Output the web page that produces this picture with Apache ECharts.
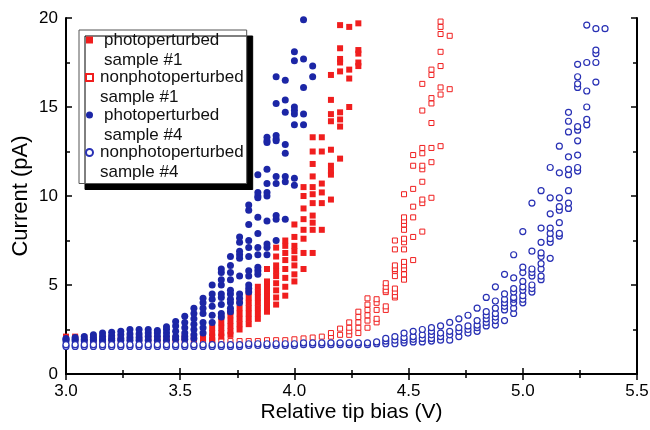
<!DOCTYPE html>
<html>
<head>
<meta charset="utf-8">
<script src="https://cdn.jsdelivr.net/npm/echarts@6/dist/echarts.min.js"></script>
<style>
  html, body { margin: 0; padding: 0; background: #fff; }
  #chart { width: 650px; height: 430px; }
</style>
</head>
<body>
<div id="chart"></div>
<script>
// each row: [tip bias (V), [currents (pA) measured at that bias]]
var photoS1 = [
  [3.00, [2.0, 2.1]], [3.04, [2.0, 2.1]], [3.08, [2.05]], [3.12, [2.05]], [3.16, [2.05]],
  [3.20, [2.05]], [3.24, [2.05]], [3.28, [2.05]], [3.32, [2.05]], [3.36, [2.05]],
  [3.40, [2.0]], [3.44, [2.0]], [3.48, [2.0]], [3.52, [2.0, 2.1]], [3.56, [2.0, 2.1]],
  [3.60, [2.0, 2.2]],
  [3.64, [1.9, 2.1, 2.3, 2.6]],
  [3.68, [2.1, 2.3, 2.6, 2.9, 3.2]],
  [3.72, [2.2, 2.4, 2.7, 3.0, 3.3, 3.5]],
  [3.76, [2.5, 2.8, 3.1, 3.4, 3.7, 4.1]],
  [3.80, [2.8, 3.1, 3.4, 3.7, 4.0, 4.3, 4.6]],
  [3.84, [3.1, 3.4, 3.7, 4.0, 4.3, 4.6, 4.9]],
  [3.88, [3.5, 3.8, 4.1, 4.4, 4.7, 5.0, 5.2, 5.9]],
  [3.92, [3.9, 4.3, 4.7, 5.1, 5.5, 5.8, 6.1, 6.6, 7.1]],
  [3.96, [4.4, 4.9, 5.4, 5.9, 6.4, 6.8, 7.2, 7.5]],
  [4.00, [5.2, 5.6, 6.1, 6.5, 6.9, 7.2, 7.7, 8.4]],
  [4.04, [5.9, 6.8, 7.6, 8.1, 8.7, 9.3, 10.0, 10.5]],
  [4.08, [6.8, 8.1, 8.5, 8.9, 9.6, 10.1, 10.5, 11.1, 11.8, 12.5, 13.3]],
  [4.12, [8.1, 9.6, 10.2, 10.7, 12.5, 13.3]],
  [4.16, [9.8, 11.2, 11.4, 11.7, 12.6, 14.2, 14.6, 15.4, 16.8]],
  [4.20, [12.1, 13.9, 14.3, 14.7, 17.0, 17.5, 17.7, 18.3, 19.6]],
  [4.24, [15.0, 16.6, 17.1, 19.5]],
  [4.28, [17.3, 17.5, 18.0, 18.2, 19.7]]
];

var nonphotoS1 = [
  [3.00, [1.85]], [3.04, [1.85]], [3.08, [1.85]], [3.12, [1.85]], [3.16, [1.85]],
  [3.20, [1.85]], [3.24, [1.85]], [3.28, [1.85]], [3.32, [1.85]], [3.36, [1.85]],
  [3.40, [1.85]], [3.44, [1.85]], [3.48, [1.85]], [3.52, [1.85]], [3.56, [1.85]],
  [3.60, [1.85]], [3.64, [1.85]], [3.68, [1.85]], [3.72, [1.85]], [3.76, [1.85]],
  [3.80, [1.85]], [3.84, [1.85]], [3.88, [1.9]], [3.92, [1.9]], [3.96, [1.9]],
  [4.00, [1.95]], [4.04, [2.0]], [4.08, [2.05]], [4.12, [2.1]],
  [4.16, [2.1, 2.3]],
  [4.20, [2.2, 2.55]],
  [4.24, [2.2, 2.4, 2.6, 2.9]],
  [4.28, [2.3, 2.6, 2.9, 3.2, 3.5]],
  [4.32, [2.6, 3.0, 3.3, 3.6, 3.9, 4.25]],
  [4.36, [2.9, 3.1, 3.6, 4.0, 4.2]],
  [4.40, [3.6, 3.8, 4.6, 4.7, 4.9, 5.1]],
  [4.44, [4.3, 4.4, 4.6, 4.8, 5.5, 5.8, 5.9, 6.1, 7.0, 7.5]],
  [4.48, [5.3, 5.6, 5.9, 6.1, 6.3, 7.0, 7.4, 7.6, 8.1, 8.4, 8.6, 8.8, 10.1]],
  [4.52, [6.4, 7.7, 8.8, 9.4, 10.4, 11.7, 12.3]],
  [4.56, [8.0, 9.6, 9.8, 10.8, 11.5, 11.7, 12.4, 12.7, 14.8, 16.3]],
  [4.60, [9.9, 11.9, 12.7, 14.1, 15.2, 15.5, 16.8, 17.1]],
  [4.64, [12.8, 15.7, 16.1, 17.3, 18.1, 19.1, 19.5, 19.8]],
  [4.68, [16.0, 19.0]]
];

var photoS4 = [
  [3.00, [1.85, 1.95, 2.0]],
  [3.04, [1.85, 1.95, 2.05]],
  [3.08, [1.85, 1.95, 2.1]],
  [3.12, [1.85, 1.95, 2.05, 2.2]],
  [3.16, [1.85, 1.95, 2.1, 2.3]],
  [3.20, [1.9, 2.0, 2.15, 2.35]],
  [3.24, [1.9, 2.0, 2.2, 2.4]],
  [3.28, [1.9, 2.05, 2.25, 2.5]],
  [3.32, [1.9, 2.05, 2.25, 2.5]],
  [3.36, [1.9, 2.1, 2.3, 2.5]],
  [3.40, [1.9, 2.1, 2.3, 2.45]],
  [3.44, [1.9, 2.1, 2.3, 2.5, 2.65]],
  [3.48, [1.95, 2.1, 2.4, 2.7, 2.95]],
  [3.52, [1.95, 2.1, 2.3, 2.6, 2.9, 3.25]],
  [3.56, [2.0, 2.2, 2.5, 2.8, 3.1, 3.4, 3.7]],
  [3.60, [2.3, 2.6, 2.9, 3.4, 3.7, 4.0, 4.25]],
  [3.64, [2.9, 3.3, 3.8, 4.2, 4.5, 5.0]],
  [3.68, [3.2, 3.4, 3.9, 4.3, 4.5, 5.0, 5.3, 5.7, 5.9]],
  [3.72, [3.5, 3.7, 4.0, 4.2, 4.5, 4.7, 5.3, 5.7, 6.1, 6.6]],
  [3.76, [4.0, 4.25, 4.5, 5.5, 6.5, 6.7, 6.9, 7.4, 7.7]],
  [3.80, [4.6, 4.8, 5.0, 5.5, 5.8, 6.6, 7.1, 7.5, 8.4, 9.2, 9.5]],
  [3.84, [5.6, 5.8, 6.0, 6.7, 7.1, 7.9, 8.8, 9.9, 10.0, 10.2, 11.2]],
  [3.88, [6.7, 7.1, 7.3, 8.6, 10.0, 10.2, 10.7, 11.5, 13.0, 13.1, 13.3]],
  [3.92, [7.5, 8.7, 8.9, 10.7, 11.1, 13.1, 13.2, 13.4, 15.2, 16.7]],
  [3.96, [8.7, 10.8, 11.1, 12.4, 12.9, 14.7, 15.4, 16.5]],
  [4.00, [10.6, 11.0, 14.0, 14.6, 14.8, 15.0, 17.6, 18.1]],
  [4.04, [14.0, 14.6, 16.1, 17.7, 19.9]],
  [4.08, [16.7, 17.3]]
];

var nonphotoS4 = [
  [3.00, [1.55, 1.65]], [3.04, [1.55, 1.65]], [3.08, [1.55, 1.65]], [3.12, [1.55, 1.65]],
  [3.16, [1.55, 1.65]], [3.20, [1.55, 1.65]], [3.24, [1.55, 1.65]], [3.28, [1.55, 1.65]],
  [3.32, [1.55, 1.65]], [3.36, [1.55, 1.65]], [3.40, [1.55, 1.65]], [3.44, [1.55, 1.65]],
  [3.48, [1.55, 1.65]], [3.52, [1.55, 1.65]], [3.56, [1.55, 1.65]], [3.60, [1.55, 1.65]],
  [3.64, [1.55, 1.65]], [3.68, [1.55, 1.65]], [3.72, [1.55, 1.65]], [3.76, [1.55, 1.65]],
  [3.80, [1.6, 1.7]], [3.84, [1.6, 1.7]], [3.88, [1.6, 1.7]], [3.92, [1.6, 1.7]],
  [3.96, [1.6, 1.7]], [4.00, [1.6, 1.7]], [4.04, [1.65, 1.75]], [4.08, [1.65, 1.75]],
  [4.12, [1.65, 1.75]], [4.16, [1.65, 1.75]], [4.20, [1.65, 1.75]], [4.24, [1.65, 1.75]],
  [4.28, [1.65, 1.75]], [4.32, [1.65, 1.75]],
  [4.36, [1.7, 1.8]],
  [4.40, [1.7, 1.85, 2.0]],
  [4.44, [1.7, 1.9, 2.1]],
  [4.48, [1.75, 1.9, 2.05, 2.3]],
  [4.52, [1.8, 1.95, 2.1, 2.4]],
  [4.56, [1.8, 2.0, 2.2, 2.5]],
  [4.60, [1.85, 2.0, 2.2, 2.4, 2.6]],
  [4.64, [1.9, 2.1, 2.3, 2.7]],
  [4.68, [1.9, 2.2, 2.4, 2.9]],
  [4.72, [2.1, 2.4, 2.6, 3.1]],
  [4.76, [2.3, 2.5, 2.7, 3.3]],
  [4.80, [2.4, 2.6, 2.75, 3.0, 3.7]],
  [4.84, [2.7, 2.9, 3.1, 3.3, 3.5, 4.3]],
  [4.88, [2.75, 3.0, 3.2, 3.4, 3.7, 4.1, 4.9]],
  [4.92, [3.0, 3.6, 3.8, 4.0, 4.2, 4.5, 5.6]],
  [4.96, [3.4, 3.7, 4.0, 4.2, 4.3, 4.6, 4.8, 5.4, 6.7]],
  [5.00, [4.0, 4.2, 4.4, 4.7, 4.9, 5.2, 5.7, 6.0, 8.0]],
  [5.04, [4.6, 4.8, 5.0, 5.5, 5.7, 5.9, 6.9, 9.6]],
  [5.08, [5.3, 5.5, 5.9, 6.2, 6.6, 6.8, 7.4, 8.2, 10.3]],
  [5.12, [6.5, 7.4, 7.6, 7.9, 8.2, 9.0, 9.9, 11.6]],
  [5.16, [7.75, 7.9, 8.5, 9.2, 9.4, 9.9, 11.3, 12.8]],
  [5.20, [9.3, 9.6, 10.3, 11.2, 11.5, 12.2, 13.6, 14.2, 14.7]],
  [5.24, [11.4, 11.6, 12.3, 13.1, 13.7, 13.9, 16.1, 16.3, 16.7, 17.4]],
  [5.28, [14.0, 14.3, 15.0, 15.9, 17.5, 19.6]],
  [5.32, [16.4, 17.5, 18.0, 18.2, 19.4]],
  [5.36, [19.4]]
];

var seriesNames = [
  'photoperturbed\nsample #1',
  'nonphotoperturbed\nsample #1',
  'photoperturbed\nsample #4',
  'nonphotoperturbed\nsample #4'
];

var RED = '#f01e1e';
var BLUE = '#1c26a6';
var BLUE_OPEN = '#2830b4';
var FONT = '"Liberation Sans", Arial, sans-serif';

function points(cols) {
  var out = [];
  cols.forEach(function (c) {
    c[1].forEach(function (v) { out.push([c[0], v]); });
  });
  return out;
}

var chart = echarts.init(document.getElementById('chart'), null, { renderer: 'canvas' });

var tickStyle = { show: true, inside: true, length: 6, lineStyle: { color: '#000', width: 1.5 } };
var minorStyle = { show: true, splitNumber: 2, length: 4, lineStyle: { color: '#000', width: 1.5 } };
var lineStyle = { show: true, lineStyle: { color: '#000', width: 2 } };

var option = {
  backgroundColor: '#fff',
  animation: false,
  grid: { left: 66, right: 13, top: 18, bottom: 56, containLabel: false, outerBoundsMode: 'none' },
  legend: {
    orient: 'vertical',
    left: 79,
    top: 30,
    padding: [-20, 3, 1, 6],
    itemGap: -22.5,
    itemWidth: 7,
    itemHeight: 7,
    backgroundColor: '#fff',
    borderColor: '#555',
    borderWidth: 1,
    shadowColor: '#000',
    shadowBlur: 0,
    shadowOffsetX: 6,
    shadowOffsetY: 6,
    selectedMode: false,
    // leading blank line keeps the first text line level with the symbol
    formatter: function (name) { return '\n' + name; },
    textStyle: {
      fontFamily: FONT, fontSize: 17, color: '#111', lineHeight: 20,
      padding: [0, 0, 0, 2]
    },
    data: [
      { name: seriesNames[0], icon: 'rect', textStyle: { padding: [0, 0, 0, 6] } },
      { name: seriesNames[1], icon: 'rect' },
      { name: seriesNames[2], icon: 'circle', textStyle: { padding: [0, 0, 0, 6] } },
      { name: seriesNames[3], icon: 'circle' }
    ]
  },
  xAxis: [{
    type: 'value', position: 'bottom', min: 3, max: 5.5, interval: 0.5,
    axisLine: lineStyle, axisTick: tickStyle, minorTick: minorStyle,
    splitLine: { show: false },
    axisLabel: {
      color: '#000', fontFamily: FONT, fontSize: 17, margin: 9,
      formatter: function (v) { return v.toFixed(1); }
    },
    name: 'Relative tip bias (V)', nameLocation: 'middle', nameGap: 28, nameMoveOverlap: false,
    nameTextStyle: { color: '#000', fontFamily: FONT, fontSize: 21 }
  }, {
    type: 'value', position: 'top', min: 3, max: 5.5, interval: 0.5,
    axisLine: lineStyle, axisTick: tickStyle, minorTick: minorStyle,
    splitLine: { show: false }, axisLabel: { show: false }
  }],
  yAxis: [{
    type: 'value', position: 'left', min: 0, max: 20, interval: 5,
    axisLine: lineStyle, axisTick: tickStyle, minorTick: minorStyle,
    splitLine: { show: false },
    axisLabel: { color: '#000', fontFamily: FONT, fontSize: 17, margin: 8 },
    name: 'Current (pA)', nameLocation: 'middle', nameGap: 34, nameMoveOverlap: false,
    nameTextStyle: { color: '#000', fontFamily: FONT, fontSize: 22 }
  }, {
    type: 'value', position: 'right', min: 0, max: 20, interval: 5,
    axisLine: lineStyle, axisTick: tickStyle, minorTick: minorStyle,
    splitLine: { show: false }, axisLabel: { show: false }
  }],
  series: [
    {
      name: seriesNames[1], type: 'scatter', z: 2,
      symbol: 'rect', symbolSize: 5,
      itemStyle: { color: '#fff', borderColor: RED, borderWidth: 1, opacity: 1 },
      data: points(nonphotoS1)
    },
    {
      name: seriesNames[0], type: 'scatter', z: 3,
      symbol: 'rect', symbolSize: [6, 6],
      itemStyle: { color: RED, opacity: 1 },
      data: points(photoS1)
    },
    {
      name: seriesNames[2], type: 'scatter', z: 4,
      symbol: 'circle', symbolSize: 7,
      itemStyle: { color: BLUE, opacity: 1 },
      data: points(photoS4)
    },
    {
      name: seriesNames[3], type: 'scatter', z: 5,
      symbol: 'circle', symbolSize: 6,
      itemStyle: { color: '#fff', borderColor: BLUE_OPEN, borderWidth: 1.2, opacity: 1 },
      data: points(nonphotoS4)
    }
  ]
};

chart.setOption(option);
</script>
</body>
</html>
